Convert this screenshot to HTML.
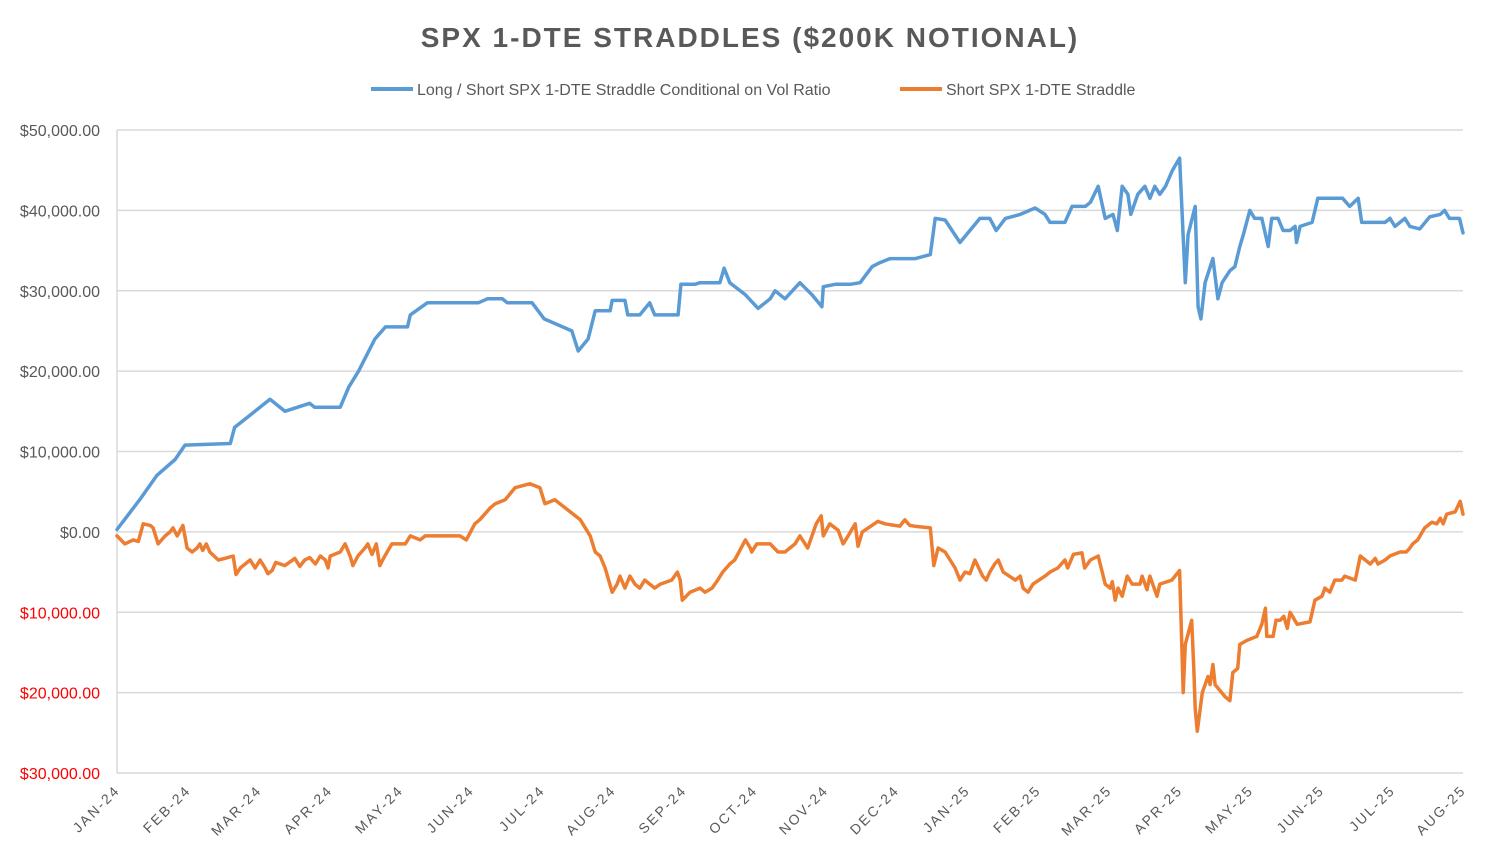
<!DOCTYPE html>
<html><head><meta charset="utf-8"><style>
html,body{margin:0;padding:0;background:#fff;}
svg{display:block;font-family:"Liberation Sans",sans-serif;}
</style></head><body>
<svg id="chart" width="1500" height="863" viewBox="0 0 1500 863" xmlns="http://www.w3.org/2000/svg">
<text x="750" y="47" text-anchor="middle" font-size="28" font-weight="bold" fill="#595959" letter-spacing="2">SPX 1-DTE STRADDLES ($200K NOTIONAL)</text>
<g>
<g>
<line x1="371" y1="89" x2="413" y2="89" stroke="#5b9bd5" stroke-width="4"/>
<text x="417" y="95" font-size="16" fill="#595959">Long / Short SPX 1-DTE Straddle Conditional on Vol Ratio</text>
</g>
<g>
<line x1="900" y1="89" x2="942" y2="89" stroke="#ed7d31" stroke-width="4"/>
<text x="946" y="95" font-size="16" fill="#595959">Short SPX 1-DTE Straddle</text>
</g>
</g>
<g id="grid"></g>
<g id="yaxis"></g>
<g id="xaxis"></g>
<g id="series"></g>
</svg>
<script>
const yTicks = [50000, 40000, 30000, 20000, 10000, 0, -10000, -20000, -30000];
const xLabels = ["JAN-24","FEB-24","MAR-24","APR-24","MAY-24","JUN-24","JUL-24","AUG-24","SEP-24","OCT-24","NOV-24","DEC-24","JAN-25","FEB-25","MAR-25","APR-25","MAY-25","JUN-25","JUL-25","AUG-25"];
// x in months since Jan-24, values in $ thousands
const longShortMonths = [0,0.32,0.56,0.82,0.96,1.6,1.66,2.16,2.37,2.72,2.79,3.15,3.27,3.41,3.64,3.79,4.1,4.14,4.38,5.1,5.23,5.44,5.51,5.86,6.03,6.42,6.51,6.65,6.75,6.96,6.99,7.17,7.21,7.38,7.52,7.59,7.92,7.96,8.16,8.23,8.51,8.57,8.65,8.87,9.05,9.22,9.29,9.43,9.64,9.81,9.95,9.97,10.14,10.35,10.49,10.66,10.77,10.91,11.27,11.48,11.55,11.69,11.90,12.04,12.18,12.32,12.41,12.54,12.75,12.96,13.10,13.17,13.38,13.48,13.67,13.74,13.85,13.95,14.06,14.12,14.19,14.27,14.31,14.41,14.51,14.58,14.65,14.72,14.80,14.90,15.00,15.08,15.12,15.22,15.26,15.30,15.36,15.47,15.54,15.60,15.71,15.78,15.85,15.90,15.99,16.06,16.16,16.25,16.30,16.39,16.46,16.56,16.63,16.65,16.70,16.87,16.95,17.30,17.40,17.52,17.57,17.90,17.97,18.04,18.18,18.25,18.39,18.53,18.68,18.74,18.81,18.95,19.0];
const longShortValues = [0.3,4,7,9,10.8,11,13,16.5,15,16,15.5,15.5,18,20,24,25.5,25.5,27,28.5,28.5,29,29,28.5,28.5,26.5,25,22.5,24,27.5,27.5,28.8,28.8,27,27,28.5,27,27,30.8,30.8,31,31,32.8,31,29.5,27.8,29,30,29,31,29.5,28,30.5,30.8,30.8,31,33,33.5,34,34,34.5,39,38.8,36,37.5,39,39,37.5,39,39.5,40.3,39.5,38.5,38.5,40.5,40.5,41,43,39,39.5,37.5,43,42,39.5,42,43,41.5,43,42,43,45,46.5,31,37,40.5,28,26.5,31,34,29,31,32.5,33,35.5,37,40,39,39,35.5,39,39,37.5,37.5,38,36,38,38.5,41.5,41.5,40.5,41.5,38.5,38.5,39,38,39,38,37.7,39.2,39.5,40,39,39,37.2];
const shortMonths = [0,.11,.23,.30,.37,.47,.51,.58,.68,.75,.79,.85,.93,.99,1.06,1.13,1.17,1.21,1.26,1.31,1.43,1.52,1.64,1.68,1.74,1.81,1.88,1.95,2.02,2.09,2.13,2.19,2.24,2.37,2.51,2.58,2.65,2.72,2.80,2.87,2.94,2.98,3.01,3.15,3.22,3.29,3.33,3.40,3.50,3.54,3.60,3.66,3.71,3.78,3.88,4.07,4.14,4.28,4.35,4.84,4.93,5.05,5.12,5.27,5.34,5.48,5.62,5.83,5.97,6.04,6.18,6.54,6.68,6.75,6.82,6.89,6.99,7.06,7.10,7.17,7.24,7.31,7.38,7.45,7.52,7.59,7.67,7.83,7.91,7.95,7.98,8.09,8.23,8.30,8.40,8.48,8.55,8.65,8.72,8.87,8.94,8.96,9.03,9.22,9.33,9.43,9.57,9.64,9.75,9.87,9.94,9.97,10.06,10.18,10.25,10.32,10.42,10.46,10.52,10.74,10.84,11.05,11.12,11.19,11.26,11.48,11.53,11.59,11.69,11.83,11.90,11.97,12.04,12.11,12.22,12.27,12.32,12.39,12.44,12.51,12.68,12.75,12.79,12.86,12.93,13.10,13.17,13.28,13.38,13.42,13.50,13.62,13.66,13.74,13.85,13.95,14.02,14.05,14.09,14.13,14.19,14.26,14.33,14.44,14.47,14.54,14.58,14.62,14.68,14.72,14.89,15.0,15.05,15.08,15.17,15.20,15.22,15.25,15.32,15.40,15.43,15.47,15.50,15.64,15.71,15.75,15.82,15.85,15.95,16.09,16.16,16.21,16.23,16.32,16.36,16.42,16.47,16.52,16.56,16.66,16.84,16.91,17.01,17.05,17.12,17.19,17.29,17.33,17.48,17.55,17.69,17.76,17.80,17.90,17.97,18.11,18.20,18.25,18.29,18.36,18.46,18.56,18.63,18.68,18.72,18.77,18.89,18.96,19.0];
const shortValues = [-0.5,-1.5,-1,-1.2,1,.8,.5,-1.5,-.5,0,.5,-.5,.8,-2,-2.5,-2,-1.5,-2.3,-1.5,-2.5,-3.5,-3.3,-3,-5.3,-4.5,-4,-3.5,-4.5,-3.5,-4.5,-5.2,-4.8,-3.8,-4.2,-3.3,-4.3,-3.5,-3.2,-4,-3,-3.5,-4.5,-3,-2.5,-1.5,-3,-4.2,-3,-2,-1.5,-2.8,-1.5,-4.2,-3,-1.5,-1.5,-.5,-1,-.5,-.5,-1,1,1.5,3,3.5,4,5.5,6,5.5,3.5,4,1.5,-.5,-2.5,-3,-4.5,-7.5,-6.5,-5.5,-7,-5.5,-6.5,-7,-6,-6.5,-7,-6.5,-6,-5,-6,-8.5,-7.5,-7,-7.5,-7,-6,-5,-4,-3.5,-1,-2,-2.5,-1.5,-1.5,-2.5,-2.5,-1.5,-.5,-2,1,2,-.5,1,.2,-1.5,-.5,1,-1.8,0,1.3,1,.7,1.5,.8,.7,.5,-4.2,-2,-2.5,-4.5,-6,-5,-5.2,-3.5,-5.5,-6,-5,-4,-3.5,-5,-6,-5.5,-7,-7.5,-6.5,-5.5,-5,-4.5,-3.5,-4.5,-2.8,-2.6,-4.5,-3.5,-3,-6.5,-7,-6.2,-8.5,-7,-8,-5.5,-6.5,-6.5,-5.5,-7.2,-5.5,-6.5,-8,-6.5,-6,-4.8,-20,-14,-11,-17,-22,-24.8,-20,-18,-19,-16.5,-19,-20.5,-21,-17.5,-17,-14,-13.5,-13,-11.5,-9.5,-13,-13,-11,-11,-10.5,-12,-10,-11.5,-11.2,-8.5,-8,-7,-7.5,-6,-6,-5.5,-6,-3,-4,-3.3,-4,-3.5,-3,-2.5,-2.5,-2,-1.5,-1,.5,1.2,1,1.7,1,2.2,2.5,3.8,2.2];

const NS = "http://www.w3.org/2000/svg";
const X0 = 117, X1 = 1463, Y_TOP = 130, Y_BOT = 773;
const xScale = m => X0 + (m / 19) * (X1 - X0);
const yScale = v => Y_TOP + (50000 - v) / 80000 * (Y_BOT - Y_TOP);
function mk(tag, attrs, parent) {
  const e = document.createElementNS(NS, tag);
  for (const k in attrs) e.setAttribute(k, attrs[k]);
  parent.appendChild(e);
  return e;
}
const grid = document.getElementById('grid'), yax = document.getElementById('yaxis'), xax = document.getElementById('xaxis'), ser = document.getElementById('series');
yTicks.forEach(t => {
  const y = yScale(t);
  const g = mk('line', {x1: X0, x2: X1, y1: y, y2: y, stroke: '#d9d9d9', 'stroke-width': 1.5}, grid);
  
  
  const lab = mk('text', {x: 100, y: y + 6, 'text-anchor': 'end', 'font-size': 16, fill: t < 0 ? '#ff0000' : '#595959'}, yax);
  lab.textContent = '$' + Math.abs(t).toLocaleString('en-US') + '.00';
  
  
});
const ax = mk('line', {x1: X0, x2: X0, y1: Y_TOP, y2: Y_BOT, stroke: '#d9d9d9', 'stroke-width': 1.5}, grid);


xLabels.forEach((l, i) => {
  const x = xScale(i) + 4, y = 791;
  const t = mk('text', {x: x, y: y, 'text-anchor': 'end', 'font-size': 14, fill: '#595959', 'letter-spacing': 2.2, transform: `rotate(-45 ${x} ${y})`}, xax);
  t.textContent = l;
  
  
});
function drawLine(ms, vs, color, name) {
  const d = ms.map((m, i) => (i ? 'L' : 'M') + xScale(m).toFixed(1) + ',' + yScale(vs[i] * 1000).toFixed(1)).join('');
  const p = mk('path', {d: d, fill: 'none', stroke: color, 'stroke-width': 3.5, 'stroke-linejoin': 'round', 'stroke-linecap': 'round'}, ser);
  
  
}
drawLine(shortMonths, shortValues, '#ed7d31', 'short-straddle-line');
drawLine(longShortMonths, longShortValues, '#5b9bd5', 'long-short-straddle-line');
</script>
</body></html>
